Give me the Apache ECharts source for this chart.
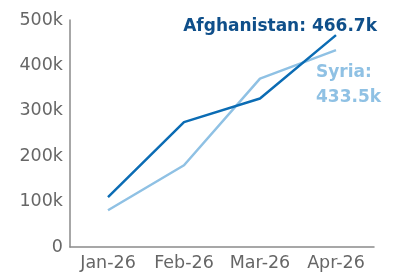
<!DOCTYPE html>
<html>
<head>
<meta charset="utf-8">
<script src="https://cdn.jsdelivr.net/npm/echarts@6/dist/echarts.min.js"></script>
<style>
html, body { margin: 0; padding: 0; background: #fff; }
#chart { width: 401px; height: 273px; }
</style>
</head>
<body>
<div id="chart"></div>
<script>
var months = ['Jan-26', 'Feb-26', 'Mar-26', 'Apr-26'];
var afghanistan = [110000, 275000, 327000, 466700];
var syria = [81000, 180000, 371000, 433500];

var dom = document.getElementById('chart');
var myChart = echarts.init(dom, null, { renderer: 'canvas' });

function kfmt(v) {
    return v === 0 ? '0' : (v / 1000) + 'k';
}

// put a label on the last point only
function withEndLabel(values, label) {
    return values.map(function (v, i) {
        if (i < values.length - 1) return v;
        return { value: v, label: label };
    });
}

var tickFont = 'DejaVu Sans';

var option = {
    animation: false,
    grid: { left: 70, right: 27, top: 20, bottom: 26 },
    xAxis: {
        type: 'category',
        data: months,
        boundaryGap: true,
        axisLine: { lineStyle: { color: '#8a8a8a', width: 1.5 } },
        axisTick: { show: false },
        axisLabel: { interval: 0, color: '#666', fontSize: 17.5, fontFamily: tickFont, margin: 7 }
    },
    yAxis: {
        type: 'value',
        min: 0,
        max: 500000,
        interval: 100000,
        axisLine: { show: true, lineStyle: { color: '#8a8a8a', width: 1.5 } },
        axisTick: { show: false },
        splitLine: { show: false },
        axisLabel: { color: '#666', fontSize: 17.5, fontFamily: tickFont, margin: 7, formatter: kfmt }
    },
    series: [
        {
            name: 'Syria',
            type: 'line',
            symbol: 'circle',
            symbolSize: 0,
            showSymbol: true,
            lineStyle: { color: '#8fc1e4', width: 2.5 },
            itemStyle: { color: '#8fc1e4' },
            label: { show: false },
            data: withEndLabel(syria, {
                show: true,
                position: 'top',
                distance: 0,
                align: 'left',
                verticalAlign: 'middle',
                offset: [-20, 35],
                lineHeight: 25,
                color: '#8fc1e4',
                fontSize: 17,
                fontWeight: 'bold',
                fontFamily: 'DejaVu Sans',
                formatter: function (p) { return 'Syria:\n' + (p.value / 1000).toFixed(1) + 'k'; }
            })
        },
        {
            name: 'Afghanistan',
            type: 'line',
            symbol: 'circle',
            symbolSize: 0,
            showSymbol: true,
            lineStyle: { color: '#0b6cb4', width: 2.5 },
            itemStyle: { color: '#0b6cb4' },
            label: { show: false },
            data: withEndLabel(afghanistan, {
                show: true,
                position: 'top',
                distance: 0,
                align: 'right',
                verticalAlign: 'middle',
                offset: [41, -9],
                color: '#0f4f8a',
                fontSize: 17,
                fontWeight: 'bold',
                fontFamily: 'DejaVu Sans',
                formatter: function (p) { return 'Afghanistan: ' + (p.value / 1000).toFixed(1) + 'k'; }
            })
        }
    ]
};

myChart.setOption(option);
window.addEventListener('resize', myChart.resize);
</script>
</body>
</html>
